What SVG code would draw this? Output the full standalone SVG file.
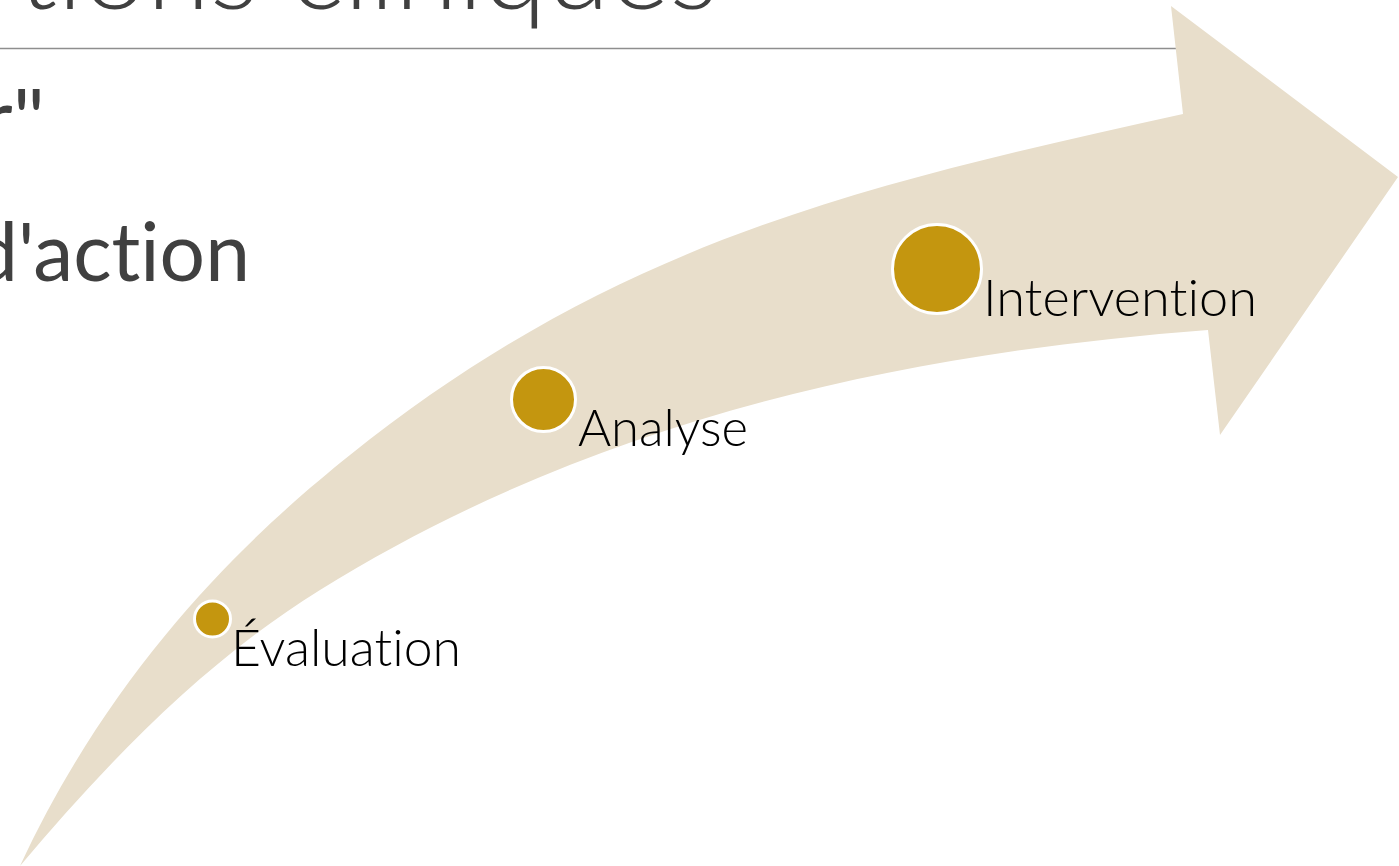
<svg xmlns="http://www.w3.org/2000/svg" width="1399" height="866" viewBox="0 0 1399 866">
  <style>
    text { font-variant-ligatures: none; font-feature-settings: "liga" 0, "clig" 0; }
    .slide { font-family: "Lato", "Liberation Sans", sans-serif; fill: #404040; }
    .title { font-weight: 300; font-size: 110px; }
    .body { font-weight: 400; font-size: 82px; }
    .dot { fill: #C4960F; stroke: #FFFFFF; stroke-width: 3; }
    .label { font-family: "Lato", "Liberation Sans", sans-serif; font-weight: 300; font-size: 52px; fill: #000000; }
  </style>

  <rect width="1399" height="866" fill="#FFFFFF"/>

  <!-- slide background text and title rule -->
  <g id="slide-text">
    <text class="slide title" x="18" y="9" textLength="700" lengthAdjust="spacingAndGlyphs">tions cliniques</text>
    <line x1="0" y1="48.5" x2="1200" y2="48.5" stroke="#8E8E8E" stroke-width="1.5"/>
    <text class="slide body" x="-19" y="147" textLength="64" lengthAdjust="spacingAndGlyphs">r"</text>
    <text class="slide body" x="-27" y="281" textLength="277" lengthAdjust="spacingAndGlyphs">d'action</text>
  </g>

  <!-- curved upward arrow -->
  <g id="arrow">
    <path fill="#E8DECB" d="M20,866
      C117,657.4 256.3,530 350,455
      C615.5,242.5 860.6,185 1183,114
      L1171,6 L1398,177 L1220,435 L1208,330
      C880,355 583.5,426.6 320,590
      C204.4,661.7 107.5,762 20,866 Z"/>
  </g>

  <!-- steps along the arrow -->
  <g id="step-evaluation">
    <circle class="dot" cx="212.5" cy="619" r="18"/>
    <text class="label" x="231" y="666" textLength="230" lengthAdjust="spacingAndGlyphs">Évaluation</text>
  </g>
  <g id="step-analyse">
    <circle class="dot" cx="543.5" cy="399.5" r="32"/>
    <text class="label" x="578" y="446" textLength="170" lengthAdjust="spacingAndGlyphs">Analyse</text>
  </g>
  <g id="step-intervention">
    <circle class="dot" cx="937" cy="269" r="44.5"/>
    <text class="label" x="983" y="316" textLength="274" lengthAdjust="spacingAndGlyphs">Intervention</text>
  </g>
</svg>
